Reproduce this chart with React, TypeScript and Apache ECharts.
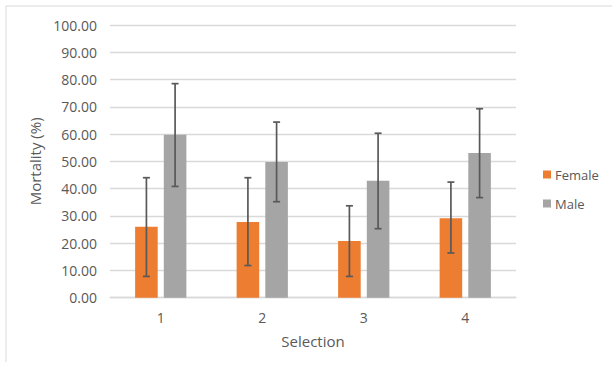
import React, { useEffect, useRef } from "react";
import * as echarts from "echarts";

const categories = ["1", "2", "3", "4"];
const femaleValues = [26.0, 27.8, 20.8, 29.1];
const maleValues = [59.8, 49.8, 42.9, 53.1];
const femaleLower = [7.8, 11.8, 7.8, 16.4];
const femaleUpper = [44.0, 44.0, 33.7, 42.4];
const maleLower = [40.8, 35.2, 25.3, 36.7];
const maleUpper = [78.5, 64.4, 60.3, 69.3];
const yTicks = { min: 0, max: 100, interval: 10 };

const BAR_CAT_GAP = 0.495;
const BAR_GAP = 0.27;

function makeErrorSeries(name: string, lower: number[], upper: number[], side: number) {
  return {
    type: "custom",
    name,
    z: 5,
    encode: { x: 0, y: [1, 2] },
    data: lower.map((lo, i) => [i, lo, upper[i]]),
    renderItem: (params: any, api: any) => {
      const idx = api.value(0);
      const lo = api.value(1);
      const hi = api.value(2);
      const band = api.size([1, 0])[0];
      const avail = band * (1 - BAR_CAT_GAP);
      const w = avail / (2 + BAR_GAP);
      const off = side * (w + w * BAR_GAP) / 2;
      const pHi = api.coord([idx, hi]);
      const pLo = api.coord([idx, lo]);
      const x = pHi[0] + off;
      const cap = 3.5;
      const style = { stroke: "#595959", lineWidth: 1.7 };
      return {
        type: "group",
        children: [
          { type: "line", shape: { x1: x, y1: pHi[1], x2: x, y2: pLo[1] }, style },
          { type: "line", shape: { x1: x - cap, y1: pHi[1], x2: x + cap, y2: pHi[1] }, style },
          { type: "line", shape: { x1: x - cap, y1: pLo[1], x2: x + cap, y2: pLo[1] }, style },
        ],
      };
    },
  };
}

export default function App() {
  const ref = useRef<HTMLDivElement>(null);
  useEffect(() => {
    if (!ref.current) return;
    const chart = echarts.init(ref.current, undefined, { renderer: "svg" });
    const font = "'Open Sans', sans-serif";
    chart.setOption({
      animation: false,
      backgroundColor: "#ffffff",
      textStyle: { fontFamily: font },
      grid: { left: 110, right: 96, top: 25, bottom: 68.3, containLabel: false },
      legend: {
        data: ["Female", "Male"],
        orient: "vertical",
        left: 538,
        top: 163,
        itemWidth: 8,
        itemHeight: 8,
        itemGap: 16,
        icon: "rect",
        textStyle: { fontSize: 13, color: "#595959", fontFamily: font, padding: [0, 0, 0, -1] },
      },
      xAxis: {
        type: "category",
        data: categories,
        name: "Selection",
        nameLocation: "middle",
        nameGap: 36,
        nameTextStyle: { fontSize: 15, color: "#595959", fontFamily: font },
        axisLine: { lineStyle: { color: "#d9d9d9", width: 1.3 } },
        axisTick: { show: false },
        axisLabel: { fontSize: 14, color: "#595959", margin: 13, fontFamily: font },
      },
      yAxis: {
        type: "value",
        min: yTicks.min,
        max: yTicks.max,
        interval: yTicks.interval,
        name: "Mortality (%)",
        nameLocation: "middle",
        nameGap: 63,
        nameRotate: 90,
        nameTextStyle: { fontSize: 15, color: "#595959", fontFamily: font },
        axisLine: { show: false },
        axisTick: { show: false },
        splitLine: { lineStyle: { color: "#d9d9d9", width: 1.3 } },
        axisLabel: {
          fontSize: 14,
          color: "#595959",
          margin: 13,
          fontFamily: font,
          formatter: (v: number) => v.toFixed(2),
        },
      },
      series: [
        {
          type: "bar",
          name: "Female",
          data: femaleValues,
          itemStyle: { color: "#ED7D31" },
          barCategoryGap: `${BAR_CAT_GAP * 100}%`,
          barGap: `${BAR_GAP * 100}%`,
        },
        {
          type: "bar",
          name: "Male",
          data: maleValues,
          itemStyle: { color: "#A5A5A5" },
          barCategoryGap: `${BAR_CAT_GAP * 100}%`,
          barGap: `${BAR_GAP * 100}%`,
        },
        makeErrorSeries("errFemale", femaleLower, femaleUpper, -1),
        makeErrorSeries("errMale", maleLower, maleUpper, 1),
      ],
      graphic: [
        { type: "line", shape: { x1: 6, y1: 6, x2: 612, y2: 6 }, style: { stroke: "#d9d9d9", lineWidth: 1 } },
        { type: "line", shape: { x1: 6, y1: 6, x2: 6, y2: 362 }, style: { stroke: "#d9d9d9", lineWidth: 1 } },
      ],
    });
    return () => chart.dispose();
  }, []);
  return <div ref={ref} style={{ position: "fixed", left: 0, top: 0, width: 612, height: 366 }} />;
}
